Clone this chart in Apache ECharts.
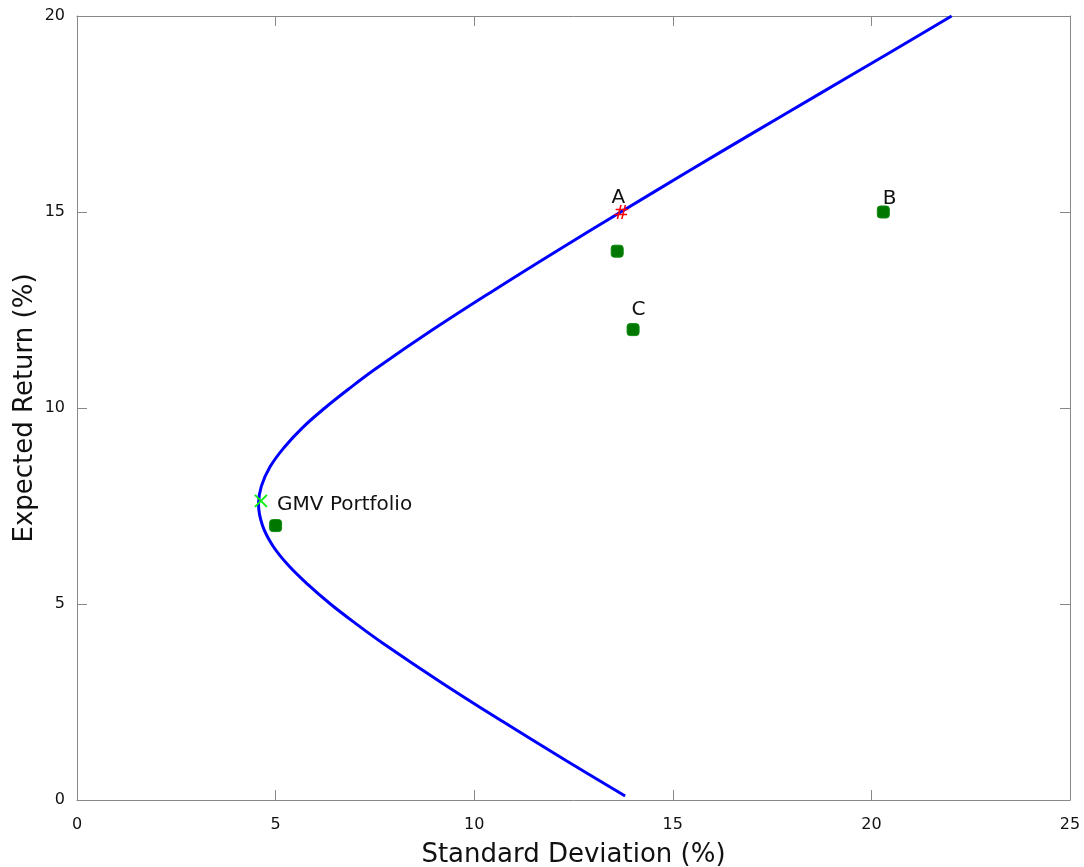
<!DOCTYPE html>
<html>
<head>
<meta charset="utf-8">
<script src="https://cdn.jsdelivr.net/npm/echarts@6/dist/echarts.min.js"></script>
<style>
html,body{margin:0;padding:0;background:#fff;}
#chart{width:1084px;height:867px;}
</style>
</head>
<body>
<div id="chart"></div>
<script>
// Efficient frontier: [std dev %, expected return %]
const frontierSigma = [13.80, 12.32, 10.72, 9.17, 7.70, 7.02, 6.38, 5.81, 5.31, 4.92, 4.67, 4.57, 4.64, 4.86, 5.22, 5.68, 6.24, 6.86, 7.52, 8.96, 10.49, 12.07, 13.69, 15.33, 16.99, 18.67, 20.35, 22.02];
const frontierMu    = [0.1,   1,     2,     3,    4,    4.5,  5,    5.5,  6,    6.5,  7,    7.55, 8,    8.5,  9,    9.5,  10,   10.5, 11,   12,   13,    14,    15,    16,    17,    18,    19,    20];

// Individual assets (green squares)
const assetSigma = [13.6, 20.3, 14.0, 5.0];
const assetMu    = [14.0, 15.0, 12.0, 7.0];

// Portfolio A marker (red #)
const markASigma = [13.72];
const markAMu = [14.93];

// GMV portfolio (green x)
const gmvSigma = [4.63];
const gmvMu = [7.63];

// Text labels
const labelNames = ['A', 'B', 'C'];
const labelSigma = [13.64, 20.47, 14.15];
const labelMu    = [15.35, 15.33, 12.48];
const gmvLabel = 'GMV Portfolio';
const gmvLabelPos = [5.05, 7.52];

const xTitle = 'Standard Deviation (%)';
const yTitle = 'Expected Return (%)';

const FONT = 'DejaVu Sans';
const axisColor = '#888';
const textColor = '#111';

function baseAxis(extra) {
  return Object.assign({
    type: 'value',
    gridIndex: 0,
    axisLine: { show: true, onZero: false, lineStyle: { color: axisColor, width: 1 } },
    axisTick: { show: true, inside: true, length: 10, lineStyle: { color: axisColor } },
    splitLine: { show: false },
    axisLabel: { show: false }
  }, extra);
}

function textLabel(fmt, align, color) {
  return {
    show: true, formatter: fmt, position: [0, 0], align: align, verticalAlign: 'middle',
    color: color, fontFamily: FONT, fontSize: 20, opacity: 1,
    textBorderWidth: 0, textBorderColor: 'transparent'
  };
}

const chart = echarts.init(document.getElementById('chart'), null, { renderer: 'canvas' });
chart.setOption({
  backgroundColor: '#fff',
  animation: false,
  grid: { left: 77, right: 14, top: 16, bottom: 67, containLabel: false, outerBoundsMode: 'none' },
  xAxis: [
    baseAxis({
      position: 'bottom', min: 0, max: 25, interval: 5,
      axisLabel: { show: true, color: textColor, fontFamily: FONT, fontSize: 16, margin: 17 },
      name: xTitle, nameLocation: 'middle', nameGap: 42,
      nameTextStyle: { color: textColor, fontFamily: FONT, fontSize: 26 }
    }),
    baseAxis({ position: 'top', min: 0, max: 25, interval: 5 })
  ],
  yAxis: [
    baseAxis({
      position: 'left', min: 0, max: 20, interval: 5,
      axisLabel: { show: true, color: textColor, fontFamily: FONT, fontSize: 16, margin: 12 },
      name: yTitle, nameLocation: 'middle', nameGap: 39, nameMoveOverlap: false,
      nameTextStyle: { color: textColor, fontFamily: FONT, fontSize: 26 }
    }),
    baseAxis({ position: 'right', min: 0, max: 20, interval: 5 })
  ],
  series: [
    {
      type: 'line',
      xAxisIndex: 0, yAxisIndex: 0,
      data: frontierSigma.map((s, i) => [s, frontierMu[i]]),
      smooth: 0.4,
      showSymbol: false,
      symbol: 'none',
      lineStyle: { color: '#0000ff', width: 3 },
      z: 2
    },
    {
      type: 'scatter',
      data: assetSigma.map((s, i) => [s, assetMu[i]]),
      symbol: 'roundRect',
      symbolSize: 12,
      itemStyle: { color: '#007800', borderColor: '#108a10', borderWidth: 1, opacity: 1 },
      z: 3
    },
    {
      type: 'scatter',
      data: markASigma.map((s, i) => [s, markAMu[i]]),
      symbolSize: 1,
      itemStyle: { color: 'rgba(0,0,0,0)', opacity: 1 },
      label: textLabel('#', 'center', '#ff0000'),
      z: 4
    },
    {
      type: 'scatter',
      data: gmvSigma.map((s, i) => [s, gmvMu[i]]),
      symbol: 'path://M0,0L10,10M10,0L0,10',
      symbolSize: 12,
      itemStyle: { color: 'none', borderColor: '#11ee11', borderWidth: 2, opacity: 1 },
      z: 4
    },
    {
      type: 'scatter',
      data: labelSigma.map((s, i) => ({ value: [s, labelMu[i]], name: labelNames[i] })),
      symbolSize: 1,
      itemStyle: { color: 'rgba(0,0,0,0)', opacity: 1 },
      label: textLabel(p => p.name, 'center', textColor),
      z: 5
    },
    {
      type: 'scatter',
      data: [{ value: gmvLabelPos, name: gmvLabel }],
      symbolSize: 1,
      itemStyle: { color: 'rgba(0,0,0,0)', opacity: 1 },
      label: textLabel(p => p.name, 'left', textColor),
      z: 5
    }
  ]
});
</script>
</body>
</html>
